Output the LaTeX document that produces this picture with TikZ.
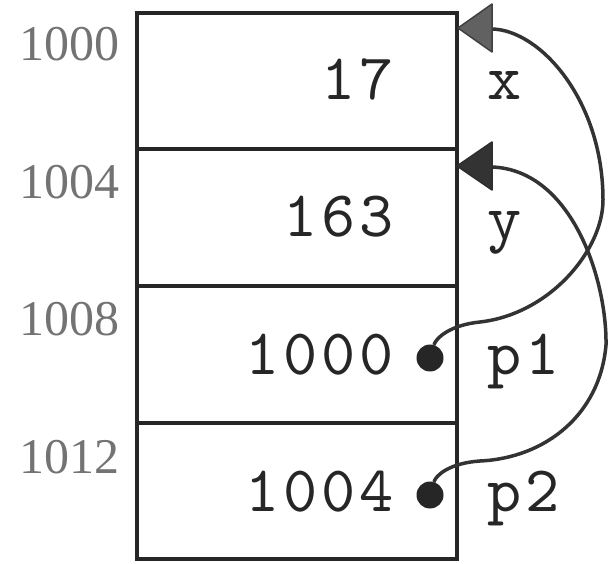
\documentclass[tikz,border=0pt]{standalone}
\usepackage{fontspec}
\newfontfamily\addrfont{Liberation Serif}
\newfontfamily\valfont{lmmono10-regular.otf}[LetterSpace=6]
\begin{document}
\begin{tikzpicture}[x=1pt,y=-1pt,
  cell/.style={draw=black!85,line width=4pt,minimum width=320pt,minimum height=136.5pt,inner sep=0pt,outer sep=0pt},
  val/.style={anchor=base east,inner sep=0pt,text=black!85,font=\fontsize{65}{66}\valfont},
  lbl/.style={anchor=base west,inner sep=0pt,text=black!85,font=\fontsize{65}{66}\valfont},
  addr/.style={anchor=base east,inner sep=0pt,text=black!55,font=\fontsize{50}{52}\addrfont},
  dot/.style={circle,fill=black!85,minimum size=27pt,inner sep=0pt},
  link/.style={draw=black!80,line width=3.5pt},
  headx/.style={fill=black!62,draw=black!75,line width=1.5pt,line join=round},
  heady/.style={fill=black!80,draw=black!82,line width=1.5pt,line join=round}
]
\useasboundingbox (0,0) rectangle (611,564);
% memory cells
\node[cell] (c1) at (297,81.25) {};
\node[cell] (c2) at (297,217.75) {};
\node[cell] (c3) at (297,354.25) {};
\node[cell] (c4) at (297,490.75) {};
% addresses
\node[addr] (a1) at (120,61) {1000};
\node[addr] (a2) at (120,199) {1004};
\node[addr] (a3) at (120,336) {1008};
\node[addr] (a4) at (120,473) {1012};
% values
\node[val] (v1) at (394,100) {17};
\node[val] (v2) at (394,237) {163};
\node[val] (v3) at (394,374) {1000};
\node[val] (v4) at (394,511) {1004};
% names
\node[lbl] (n1) at (487,100) {x};
\node[lbl] (n2) at (487,240) {y};
\node[lbl] (n3) at (487,374) {p1};
\node[lbl] (n4) at (487,511) {p2};
% pointer dots
\node[dot] (d1) at (430,358) {};
\node[dot] (d2) at (430,495) {};
% arrow heads and their bases
\coordinate (tx) at (458,28);
\coordinate (bx) at (492,29);
\coordinate (ty) at (457,166);
\coordinate (by) at (492,167);
% pointers
\draw[link] (d1) .. controls (436,338) and (450,325) .. (480,322)
  .. controls (550,314) and (603,250) .. (603,200)
  .. controls (603,100) and (540,30) .. (bx);
\draw[link] (d2) .. controls (436,475) and (450,463) .. (480,461)
  .. controls (545,458) and (600,415) .. (606,345)
  .. controls (607,280) and (572,170) .. (by);
\filldraw[headx] (tx) -- (492,4) -- (492,52) -- cycle;
\filldraw[heady] (ty) -- (492,142) -- (492,190) -- cycle;
\end{tikzpicture}
\end{document}
